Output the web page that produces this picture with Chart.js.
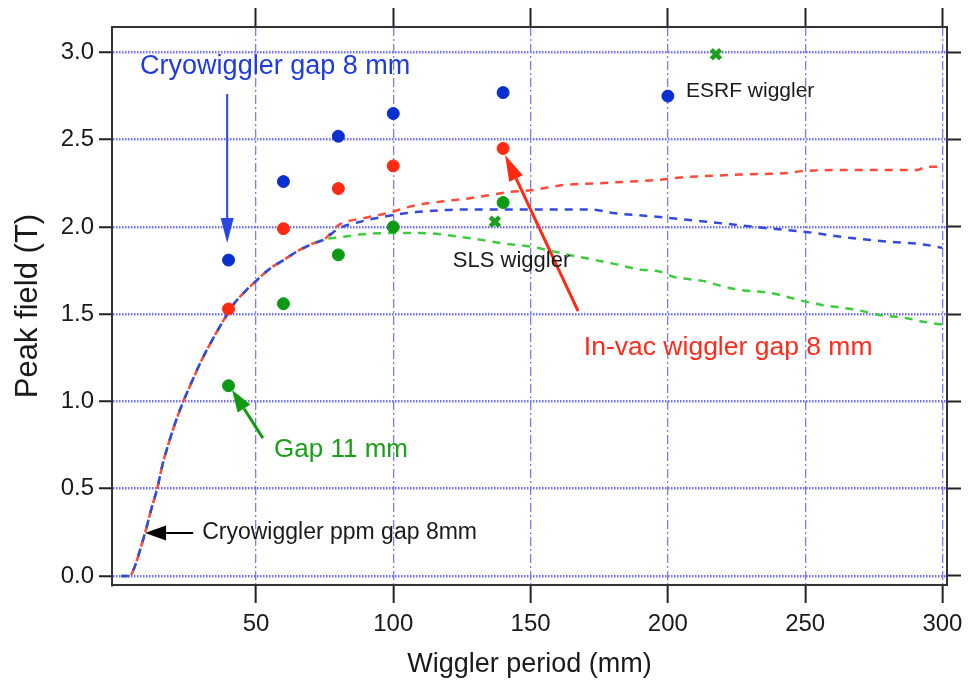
<!DOCTYPE html>
<html>
<head>
<meta charset="utf-8">
<title>Peak field vs wiggler period</title>
<script src="https://cdn.jsdelivr.net/npm/chart.js@4.4.1/dist/chart.umd.min.js"></script>
<style>
  html, body { margin: 0; padding: 0; background: #fff; overflow: hidden; }
  #wrap { width: 975px; height: 687px; }
</style>
</head>
<body>
<div id="wrap"><canvas id="chart"></canvas></div>
<script>
// Measured designs (period in mm, peak field in T)
const cryoPeriods = [40, 60, 80, 100, 140, 200];
const cryoField = [1.81, 2.26, 2.52, 2.65, 2.77, 2.75];
const invacPeriods = [40, 60, 80, 100, 140];
const invacField = [1.53, 1.99, 2.22, 2.35, 2.45];
const gap11Periods = [40, 60, 80, 100, 140];
const gap11Field = [1.09, 1.56, 1.84, 2.00, 2.14];

// Existing wigglers (SLS, ESRF)
const existingPeriods = [137, 217.5];
const existingField = [2.03, 2.99];

// Computed curves: common rise, then each model separates
const risePeriods = [1, 4, 6, 8, 10, 12, 14, 16, 18, 20, 23, 26, 30, 34, 38, 42, 46, 50, 55, 60, 65, 70, 75];
const riseField = [0.0, 0.0, 0.06, 0.16, 0.27, 0.39, 0.50, 0.64, 0.75, 0.85, 0.98, 1.09, 1.23, 1.35, 1.46, 1.56, 1.63, 1.69, 1.76, 1.81, 1.86, 1.90, 1.93];

const ppmTailPeriods = [80, 88, 97, 105, 112, 125, 150, 172, 180, 195, 214, 226, 238, 251, 265, 281, 293, 300];
const ppmTailField = [1.99, 2.03, 2.06, 2.08, 2.09, 2.10, 2.10, 2.10, 2.08, 2.06, 2.03, 2.01, 1.99, 1.97, 1.94, 1.915, 1.90, 1.88];

const invacTailPeriods = [80, 89, 98, 107, 117, 128, 138, 142, 150, 162, 174, 186, 197, 202, 226, 244, 249, 269, 291, 294, 300];
const invacTailField = [2.01, 2.05, 2.08, 2.12, 2.145, 2.165, 2.19, 2.20, 2.21, 2.24, 2.25, 2.26, 2.27, 2.28, 2.30, 2.31, 2.32, 2.327, 2.327, 2.345, 2.345];

const gap11TailPeriods = [80, 90, 100, 110, 128, 140, 150, 164, 180, 190, 197, 202, 214, 218, 226, 238, 248, 256, 269, 277, 287, 293, 300];
const gap11TailField = [1.94, 1.96, 1.965, 1.965, 1.935, 1.906, 1.887, 1.84, 1.79, 1.755, 1.745, 1.715, 1.687, 1.668, 1.64, 1.62, 1.58, 1.553, 1.524, 1.496, 1.477, 1.457, 1.44];

const yTicks = [0, 0.5, 1.0, 1.5, 2.0, 2.5, 3.0];
const xTicks = [50, 100, 150, 200, 250, 300];

const FONT = "'Liberation Sans', Arial, sans-serif";

function pts(xs, ys) {
    return xs.map((x, i) => ({ x, y: ys[i] }));
}

// Text labels and arrows placed in data units
const notes = [
    { text: 'Cryowiggler gap 8 mm', x: 7.8, y: 2.917, color: '#1f3be0', size: 27 },
    { text: 'Cryowiggler ppm gap 8mm', x: 30.4, y: 0.246, color: '#1a1a1a', size: 23 },
    { text: 'ESRF wiggler', x: 206.6, y: 2.779, color: '#1a1a1a', size: 21 },
    { text: 'SLS wiggler', x: 121.7, y: 1.805, color: '#1a1a1a', size: 22 },
    { text: 'In-vac wiggler gap 8 mm', x: 169.4, y: 1.307, color: '#ff2a1a', size: 26.5 },
    { text: 'Gap 11 mm', x: 56.6, y: 0.722, color: '#19a019', size: 26 },
];

const arrows = [
    { from: [39.5, 2.762], to: [39.5, 1.908], color: '#2a45e0', width: 2, len: 25, half: 6.5 },
    { from: [27.1, 0.246], to: [9.6, 0.246], color: '#000000', width: 2, len: 21, half: 7.5 },
    { from: [167.3, 1.517], to: [140.7, 2.413], color: '#ff2a10', width: 3, len: 26, half: 7.5 },
    { from: [52.5, 0.79], to: [41.3, 1.066], color: '#139a13', width: 3, len: 22, half: 7.5 },
];

const annotationPlugin = {
    id: 'annotations',
    afterDatasetsDraw(chart) {
        const { ctx } = chart;
        const xs = chart.scales.x;
        const ys = chart.scales.y;

        arrows.forEach(a => {
            const x1 = xs.getPixelForValue(a.from[0]);
            const y1 = ys.getPixelForValue(a.from[1]);
            const x2 = xs.getPixelForValue(a.to[0]);
            const y2 = ys.getPixelForValue(a.to[1]);
            const ang = Math.atan2(y2 - y1, x2 - x1);
            const bx = x2 - a.len * Math.cos(ang);
            const by = y2 - a.len * Math.sin(ang);
            ctx.save();
            ctx.strokeStyle = a.color;
            ctx.fillStyle = a.color;
            ctx.lineWidth = a.width;
            ctx.beginPath();
            ctx.moveTo(x1, y1);
            ctx.lineTo(bx, by);
            ctx.stroke();
            ctx.beginPath();
            ctx.moveTo(x2, y2);
            ctx.lineTo(bx + a.half * Math.sin(ang), by - a.half * Math.cos(ang));
            ctx.lineTo(bx - a.half * Math.sin(ang), by + a.half * Math.cos(ang));
            ctx.closePath();
            ctx.fill();
            ctx.restore();
        });

        notes.forEach(n => {
            ctx.save();
            ctx.font = `${n.size}px ${FONT}`;
            ctx.fillStyle = n.color;
            ctx.textAlign = 'left';
            ctx.textBaseline = 'middle';
            ctx.fillText(n.text, xs.getPixelForValue(n.x), ys.getPixelForValue(n.y));
            ctx.restore();
        });
    }
};

const X_MIN = -2.44, X_MAX = 301.66;
const Y_MIN = -0.052, Y_MAX = 3.146;

function keepTicks(values) {
    return scale => {
        scale.ticks = values.map(v => ({ value: v }));
    };
}

const tickFont = { family: FONT, size: 24 };

const ctx = document.getElementById('chart').getContext('2d');
new Chart(ctx, {
    type: 'scatter',
    data: {
        datasets: [
            {
                label: 'Cryowiggler gap 8 mm',
                data: pts(cryoPeriods, cryoField),
                backgroundColor: '#0a2fd0', borderColor: '#0a2fd0',
                pointRadius: 6, borderWidth: 1,
            },
            {
                label: 'In-vac wiggler gap 8 mm',
                data: pts(invacPeriods, invacField),
                backgroundColor: '#ff2a12', borderColor: '#ff2a12',
                pointRadius: 6, borderWidth: 1,
            },
            {
                label: 'Gap 11 mm',
                data: pts(gap11Periods, gap11Field),
                backgroundColor: '#0c9a14', borderColor: '#0c9a14',
                pointRadius: 6, borderWidth: 1,
            },
            {
                label: 'Existing wigglers',
                data: pts(existingPeriods, existingField),
                pointStyle: 'crossRot',
                borderColor: '#1d9e1d', backgroundColor: '#1d9e1d',
                pointRadius: 6.5, borderWidth: 4.5,
            },
            {
                label: 'Cryowiggler ppm gap 8mm',
                data: pts(risePeriods.concat(ppmTailPeriods), riseField.concat(ppmTailField)),
                showLine: true, pointRadius: 0,
                borderColor: '#3548df', borderWidth: 2.5, borderDash: [8, 7],
                cubicInterpolationMode: 'monotone',
            },
            {
                label: 'In-vac ppm gap 8mm',
                data: pts(risePeriods.concat(invacTailPeriods), riseField.concat(invacTailField)),
                showLine: true, pointRadius: 0,
                borderColor: '#ff4a3a', borderWidth: 2.5, borderDash: [8, 7], borderDashOffset: 5,
                cubicInterpolationMode: 'monotone',
            },
            {
                label: 'Gap 11 mm curve',
                data: pts(risePeriods.concat(gap11TailPeriods), riseField.concat(gap11TailField)),
                showLine: true, pointRadius: 0,
                borderColor: '#3ccc3c', borderWidth: 2.5, borderDash: [8, 7], borderDashOffset: 2,
                cubicInterpolationMode: 'monotone',
            },
        ],
    },
    options: {
        responsive: true,
        maintainAspectRatio: false,
        animation: false,
        layout: { padding: 0 },
        plugins: {
            legend: { display: false },
            tooltip: { enabled: false },
        },
        scales: {
            x: {
                type: 'linear', position: 'bottom', min: X_MIN, max: X_MAX,
                afterBuildTicks: keepTicks(xTicks),
                afterFit: s => { s.height = 102; },
                ticks: { font: tickFont, color: '#1a1a1a', padding: 7, maxRotation: 0 },
                grid: {
                    color: 'rgba(110,110,255,0.9)', lineWidth: 1.3,
                    tickColor: '#222', tickWidth: 2, tickLength: 18, tickBorderDash: [],
                },
                border: { color: '#333', width: 2, dash: [9, 3, 2, 3] },
                title: {
                    display: true, text: 'Wiggler period (mm)', color: '#1a1a1a',
                    font: { family: FONT, size: 27 }, padding: { top: 0, bottom: 6 },
                },
            },
            x2: {
                type: 'linear', position: 'top', axis: 'x', min: X_MIN, max: X_MAX,
                afterBuildTicks: keepTicks(xTicks),
                afterFit: s => { s.height = 27; },
                ticks: { display: false },
                grid: {
                    drawOnChartArea: false, tickColor: '#222', tickWidth: 2, tickLength: 19, tickBorderDash: [],
                },
                border: { color: '#333', width: 2 },
            },
            y: {
                type: 'linear', position: 'left', min: Y_MIN, max: Y_MAX,
                afterBuildTicks: keepTicks(yTicks),
                afterFit: s => { s.width = 112; },
                ticks: {
                    font: tickFont, color: '#1a1a1a', padding: 5,
                    callback: v => v.toFixed(1),
                },
                grid: {
                    color: '#7070ff', lineWidth: 2.5,
                    tickColor: '#222', tickWidth: 2, tickLength: 13, tickBorderDash: [],
                },
                border: { color: '#333', width: 2, dash: [1.5, 1.5] },
                title: {
                    display: true, text: 'Peak field (T)', color: '#1a1a1a',
                    font: { family: FONT, size: 31 }, padding: { top: 10, bottom: 0 },
                },
            },
            y2: {
                type: 'linear', position: 'right', axis: 'y', min: Y_MIN, max: Y_MAX,
                afterBuildTicks: keepTicks(yTicks),
                afterFit: s => { s.width = 28; },
                ticks: { display: false },
                grid: {
                    drawOnChartArea: false, tickColor: '#222', tickWidth: 2, tickLength: 14, tickBorderDash: [],
                },
                border: { color: '#333', width: 2 },
            },
        },
    },
    plugins: [annotationPlugin],
});
</script>
</body>
</html>
